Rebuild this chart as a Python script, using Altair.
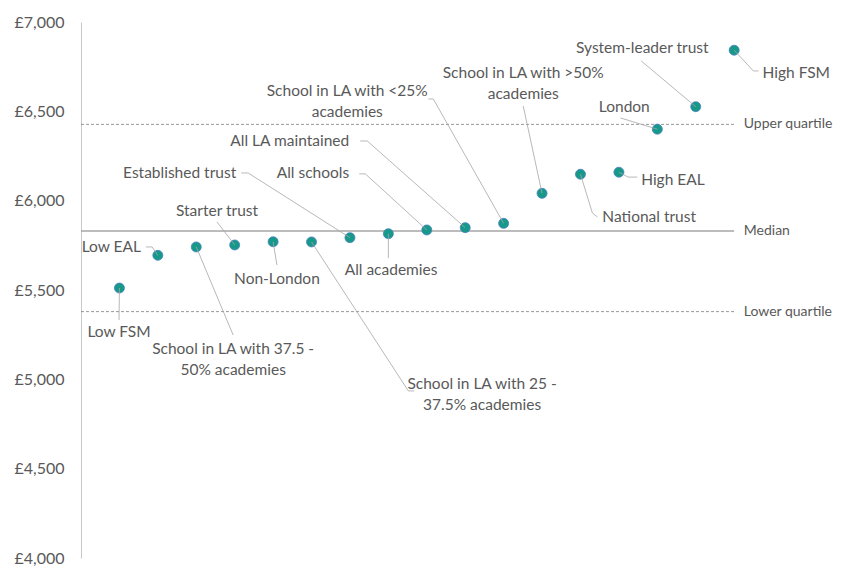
import altair as alt
import pandas as pd

# ---- data ----
categories = [
    "Low FSM", "Low EAL", "School in LA with 37.5 - 50% academies", "Starter trust",
    "Non-London", "School in LA with 25 - 37.5% academies", "Established trust",
    "All academies", "All schools", "All LA maintained",
    "School in LA with <25% academies", "School in LA with >50% academies",
    "National trust", "High EAL", "London", "System-leader trust", "High FSM",
]
values = [5511, 5694, 5741, 5752, 5770, 5769, 5793, 5815, 5836, 5849,
          5873, 6041, 6148, 6159, 6400, 6526, 6842]
median_value = 5830
upper_quartile = 6427
lower_quartile = 5379

# label text lines for each point
label_lines = [
    ["Low FSM"], ["Low EAL"], ["School in LA with 37.5 -", "50% academies"],
    ["Starter trust"], ["Non-London"], ["School in LA with 25 -", "37.5% academies"],
    ["Established trust"], ["All academies"], ["All schools"], ["All LA maintained"],
    ["School in LA with <25%", "academies"], ["School in LA with >50%", "academies"],
    ["National trust"], ["High EAL"], ["London"], ["System-leader trust"], ["High FSM"],
]

# ---- annotation layout (data coordinates: position index, £) ----
label_x = [0.99, 1.56, 3.96, 3.54, 5.10, 10.44, 4.04, 8.07, 6.98, 6.98,
           6.93, 11.51, 13.57, 14.58, 14.14, 14.61, 17.74]
label_y = [5265, 5741, 5170, 5942, 5562, 4974, 6155, 5612, 6155, 6334,
           6614, 6715, 5909, 6116, 6524, 6854, 6715]
label_align = ["center", "right", "center", "center", "center", "center", "right",
               "center", "right", "right", "center", "center", "left", "left",
               "center", "center", "left"]
# leader line bend points after the data point
leaders = [
    [(0.99, 5332)],
    [(1.85, 5741), (1.69, 5741)],
    [(3.96, 5248)],
    [(3.54, 5881)],
    [(5.10, 5640)],
    [(8.52, 4935), (8.67, 4935)],
    [(4.35, 6155), (4.17, 6155)],
    [(8.0, 5679)],
    [(7.40, 6150), (7.24, 6150)],
    [(7.45, 6334), (7.27, 6334)],
    [(9.17, 6569), (9.04, 6569)],
    [(11.51, 6530)],
    [(13.31, 5931), (13.44, 5909)],
    [(14.24, 6132), (14.48, 6132)],
    [(14.04, 6463)],
    [(14.58, 6782)],
    [(17.50, 6726), (17.63, 6726)],
]

positions = list(range(1, len(values) + 1))

pts = pd.DataFrame({"pos": positions, "value": values, "name": categories})

LINE_STEP = 21 * 3000 / 536  # second text line, in £ units
lab_rows = []
for i, lines in enumerate(label_lines):
    for j, line in enumerate(lines):
        lab_rows.append({"x": label_x[i], "y": label_y[i] - j * LINE_STEP,
                         "text": line, "al": label_align[i]})
labs = pd.DataFrame(lab_rows)

lead_rows = []
for i, bends in enumerate(leaders):
    lead_rows.append({"id": i, "o": 0, "x": positions[i], "y": values[i]})
    for k, (bx, by) in enumerate(bends):
        lead_rows.append({"id": i, "o": k + 1, "x": bx, "y": by})
leads = pd.DataFrame(lead_rows)

ref_names = ["Upper quartile", "Median", "Lower quartile"]
ref_vals = [upper_quartile, median_value, lower_quartile]
refs = pd.DataFrame({"name": ref_names, "value": ref_vals,
                     "x0": [0] * 3, "x1": [positions[-1]] * 3, "xl": [17.25] * 3,
                     "kind": ["dash", "solid", "dash"]})

FONT = "Lato"
TXT = "#595959"
FS = 15.5

xs = alt.Scale(domain=[0, 19], nice=False, zero=False)
ys = alt.Scale(domain=[4000, 7000], nice=False, zero=False)

base_y_axis = alt.Axis(values=[4000, 4500, 5000, 5500, 6000, 6500, 7000],
                       labelExpr="'£' + format(datum.value, ',')",
                       title=None, grid=False, ticks=False, domain=True,
                       domainColor="#c8c8c8", domainWidth=1,
                       labelFont=FONT, labelFontSize=16, labelColor=TXT,
                       labelPadding=17)

axis_layer = alt.Chart(pts).mark_point(opacity=0).encode(
    x=alt.X("pos:Q", scale=xs, axis=None),
    y=alt.Y("value:Q", scale=ys, axis=base_y_axis),
)

median_rule = alt.Chart(refs[refs["kind"] == "solid"]).mark_rule(
    color="#a6a6a6", strokeWidth=1.5).encode(
    x=alt.X("x0:Q", scale=xs), x2="x1:Q", y=alt.Y("value:Q", scale=ys))

quart_rule = alt.Chart(refs[refs["kind"] == "dash"]).mark_rule(
    color="#7f7f7f", strokeWidth=0.8, strokeDash=[3, 2]).encode(
    x=alt.X("x0:Q", scale=xs), x2="x1:Q", y=alt.Y("value:Q", scale=ys))

ref_text = alt.Chart(refs).mark_text(
    align="left", baseline="middle", font=FONT, fontSize=14, color=TXT).encode(
    x=alt.X("xl:Q", scale=xs), y=alt.Y("value:Q", scale=ys), text="name:N")

points = alt.Chart(pts).mark_circle(
    size=100, color="#17998a", opacity=1, stroke="#4a7fc1", strokeWidth=0.8).encode(
    x=alt.X("pos:Q", scale=xs), y=alt.Y("value:Q", scale=ys),
    tooltip=["name:N", "value:Q"])

leader_lines = alt.Chart(leads).mark_line(
    color="#a6a6a6", strokeWidth=0.8).encode(
    x=alt.X("x:Q", scale=xs), y=alt.Y("y:Q", scale=ys),
    detail="id:N", order="o:Q")

layers = []
for al in ["center", "left", "right"]:
    d = labs[labs["al"] == al]
    layers.append(alt.Chart(d).mark_text(
        align=al, baseline="middle", font=FONT, fontSize=FS, color=TXT).encode(
        x=alt.X("x:Q", scale=xs), y=alt.Y("y:Q", scale=ys), text="text:N"))

chart = alt.layer(
    axis_layer, quart_rule, median_rule, ref_text, points, leader_lines, *layers
).properties(
    width=730, height=536,
    background="white",
    autosize=alt.AutoSizeParams(type="none"),
    padding={"left": 73, "top": 14, "right": 23, "bottom": 11},
).configure_view(strokeWidth=0, stroke="transparent")

chart.save("out.html", embed_options={"renderer": "svg", "actions": False})
